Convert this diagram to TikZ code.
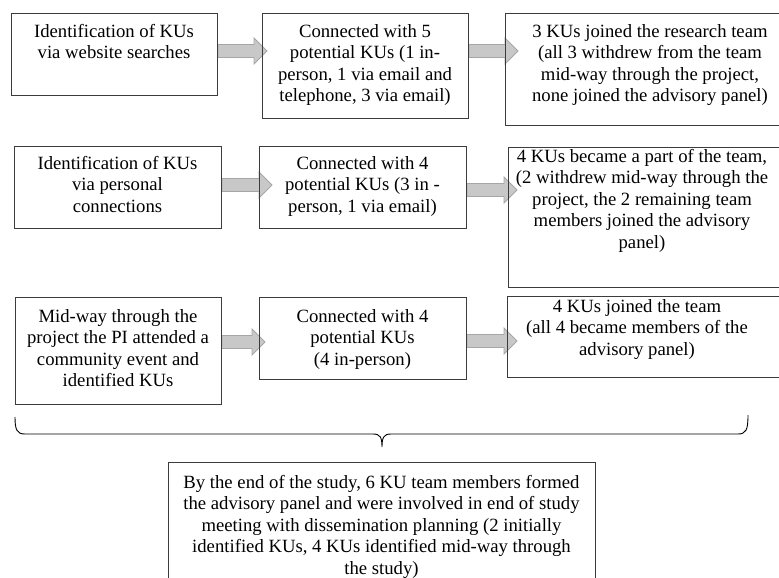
\documentclass[tikz,border=0pt]{standalone}
\usepackage{fontspec}
\setmainfont{Liberation Serif}
\usetikzlibrary{calc}
\pgfdeclarelayer{bg}
\pgfsetlayers{bg,main}
\definecolor{boxline}{HTML}{3C3C3C}
\definecolor{arrfill}{HTML}{C8C8C8}
\definecolor{arrline}{HTML}{A6A6A6}
\tikzset{
  box/.style={draw=boxline, line width=0.9pt, inner sep=0pt, anchor=north west},
  txt/.style={inner sep=0pt, anchor=north, align=center, font=\fontsize{18.7}{21.5}\selectfont},
  arr/.style={fill=arrfill, draw=arrline, line width=0.8pt},
  brace/.style={draw=black, line width=0.9pt},
}
% #1 from node, #2 to node, #3 y, #4 tip overlap into target
\newcommand\blockarr[4]{%
  \coordinate (#1#2s) at (#1.east |- 0,#3);
  \coordinate (#1#2w) at (#2.west |- 0,#3);
  \coordinate (#1#2e) at ([xshift=#4]#1#2w);
  \begin{pgfonlayer}{bg}
  \filldraw[arr] ([yshift=6.5pt]#1#2s) -- ([xshift=-13pt,yshift=6.5pt]#1#2e)
    -- ([xshift=-13pt,yshift=13pt]#1#2e) -- (#1#2e)
    -- ([xshift=-13pt,yshift=-13pt]#1#2e) -- ([xshift=-13pt,yshift=-6.5pt]#1#2e)
    -- ([yshift=-6.5pt]#1#2s) -- cycle;
  \end{pgfonlayer}}
\begin{document}
\begin{tikzpicture}[x=1pt,y=1pt]
\useasboundingbox (0,0) rectangle (779,-578);
\clip (0,0) rectangle (779,-578);
% row 1
\node[box, minimum width=206pt, minimum height=82pt] (a1) at (11,-13) {};
\node[box, minimum width=206pt, minimum height=105pt] (a2) at (262,-13) {};
\node[box, minimum width=290pt, minimum height=112pt] (a3) at (505,-13) {};
% row 2
\node[box, minimum width=207pt, minimum height=82pt] (b1) at (14,-146) {};
\node[box, minimum width=207pt, minimum height=82pt] (b2) at (259,-146) {};
\node[box, minimum width=285pt, minimum height=140pt] (b3) at (508,-147) {};
% row 3
\node[box, minimum width=206pt, minimum height=107pt] (c1) at (15,-297) {};
\node[box, minimum width=207pt, minimum height=82pt] (c2) at (259,-297) {};
\node[box, minimum width=285pt, minimum height=81pt] (c3) at (507,-296) {};
% bottom
\node[box, minimum width=427pt, minimum height=140pt] (d) at (168,-462) {};

% texts
\node[txt] (a1t) at (114,-22) {\strut Identification of KUs\\via website searches};
\node[txt] (a2t) at (365,-22) {\strut Connected with 5\\potential KUs (1 in-\\person, 1 via email and\\telephone, 3 via email)};
\node[txt] (a3t) at (650,-22) {\strut 3 KUs joined the research team\\(all 3 withdrew from the team\\mid-way through the project,\\none joined the advisory panel)};
\node[txt] (b1t) at (117.5,-154) {\strut Identification of KUs\\via personal\\connections};
\node[txt] (b2t) at (362.5,-154) {\strut Connected with 4\\potential KUs (3 in -\\person, 1 via email)};
\node[txt] (b3t) at (642,-147) {\strut 4 KUs became a part of the team,\\(2 withdrew mid-way through the\\project, the 2 remaining team\\members joined the advisory\\panel)};
\node[txt] (c1t) at (118,-307) {\strut Mid-way through the\\project the PI attended a\\community event and\\identified KUs};
\node[txt] (c2t) at (362.5,-307) {\strut Connected with 4\\potential KUs\\(4 in-person)};
\node[txt] (c3t) at (637,-297) {\strut 4 KUs joined the team\\(all 4 became members of the\\advisory panel)};
\node[txt] (dt) at (381.5,-473) {\strut By the end of the study, 6 KU team members formed\\the advisory panel and were involved in end of study\\meeting with dissemination planning (2 initially\\identified KUs, 4 KUs identified mid-way through\\the study)};

% block arrows
\blockarr{a1}{a2}{-51}{5pt}
\blockarr{a2}{a3}{-51}{13pt}
\blockarr{b1}{b2}{-185}{13pt}
\blockarr{b2}{b3}{-190}{9pt}
\blockarr{c1}{c2}{-342}{6pt}
\blockarr{c2}{c3}{-341}{10pt}

% brace
\coordinate (brL) at (15,-417);
\coordinate (brT) at (382,-447);
\coordinate (brR) at (748,-415);
\draw[brace] (brL) .. controls (15,-430) and (17,-434) .. (25,-434) -- (373,-434)
  .. controls (380,-434) and (382,-437) .. (brT)
  .. controls (382,-437) and (384,-434) .. (391,-434) -- (738,-434)
  .. controls (746,-434) and (748,-430) .. (brR);
\end{tikzpicture}
\end{document}
